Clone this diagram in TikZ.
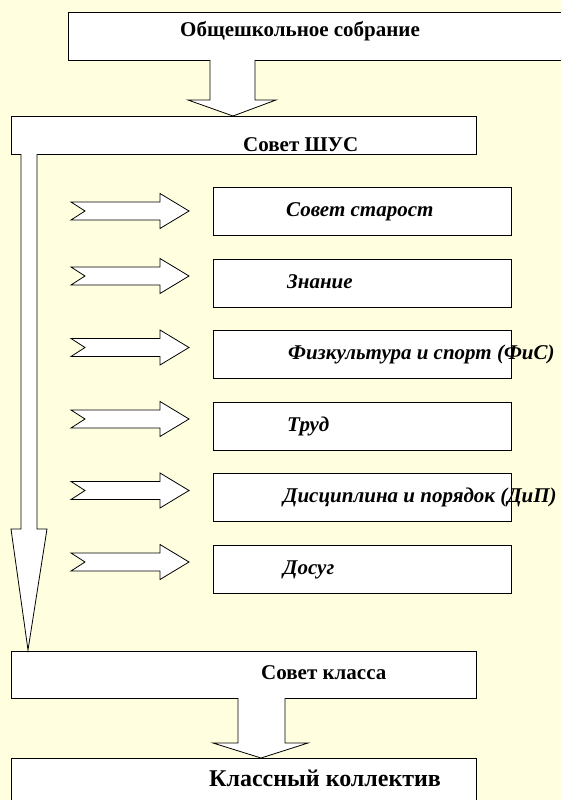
\documentclass[tikz,border=0pt]{standalone}
\usepackage{fontspec}
\setmainfont{Liberation Serif}
\newfontfamily\tnr{Liberation Serif}
\definecolor{bg}{RGB}{255,255,224}
\tikzset{
  box/.style={draw=black, line width=0.9pt, fill=white, rectangle, inner sep=0pt},
  blk/.style={draw=black, line width=0.8pt, fill=white, line join=miter},
  btxt/.style={inner sep=0pt, anchor=base west, font=\tnr\fontsize{21}{25}\selectfont\bfseries},
  bigtxt/.style={inner sep=0pt, anchor=base west, font=\tnr\fontsize{24}{28}\selectfont\bfseries},
  itxt/.style={inner sep=0pt, anchor=base west, font=\tnr\fontsize{21}{25}\selectfont\bfseries\itshape},
  notcharrow/.pic={
    \path[blk] (0,-9) -- (89,-9) -- (89,-17.5) -- (118,0) -- (89,17.5) -- (89,9) -- (0,9) -- (14,0) -- cycle;
  }
}
\begin{document}
\begin{tikzpicture}[x=1pt,y=-1pt]
\path[use as bounding box, fill=bg] (0,0) rectangle (561,800);
\clip (0,0) rectangle (561,800);

% main boxes
\node[box, minimum width=520pt, minimum height=48pt] (top) at (328,36) {};
\node[btxt] (toptxt) at (180,37) {Общешкольное собрание};

\node[box, minimum width=465pt, minimum height=38pt] (shus) at (243.5,135) {};
\node[btxt] (shustxt) at (243,151) {Совет ШУС};

\node[box, minimum width=465pt, minimum height=47pt] (klass) at (243.5,674.5) {};
\node[btxt] (klasstxt) at (261,679) {Совет класса};

\node[box, minimum width=465pt, minimum height=60pt] (koll) at (243.5,788) {};
\node[bigtxt] (kolltxt) at (209,786) {Классный коллектив};

% block arrows between main boxes
\path[blk] (210,60) -- (210,100) -- (188,100) -- (233,116) -- (276,100) -- (255,100) -- (255,60);
\path[blk] (238,698) -- (238,743) -- (213,743) -- (261,758) -- (308,743) -- (285,743) -- (285,698);

% long vertical arrow
\path[blk] (21,154) -- (21,529) -- (11,529) -- (28,650) -- (47,529) -- (37,529) -- (37,154);

% committee boxes
\foreach \cy/\nm in {211/b1, 283/b2, 354/b3, 426/b4, 497/b5, 569/b6}{
  \node[box, minimum width=298pt, minimum height=48pt] (\nm) at (362,\cy) {};
}
\node[itxt] (t1) at (286,216) {Совет старост};
\node[itxt] (t2) at (287,288) {Знание};
\node[itxt] (t3) at (288,359) {Физкультура и спорт (ФиС)};
\node[itxt] (t4) at (287,431) {Труд};
\node[itxt] (t5) at (283,502) {Дисциплина и порядок (ДиП)};
\node[itxt] (t6) at (283,574) {Досуг};

% notched arrows
\foreach \ay in {211, 276, 347.5, 419, 490.5, 562}{
  \pic at (71,\ay) {notcharrow};
}
\end{tikzpicture}
\end{document}
